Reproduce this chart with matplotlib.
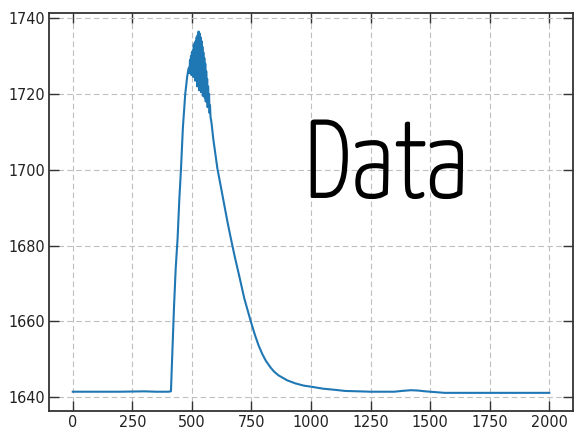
import numpy as np
import matplotlib
matplotlib.use("Agg")
import matplotlib.pyplot as plt
import matplotlib.patheffects as pe

# baseline + rise
x_rise = [0, 100, 200, 300, 350, 400, 412, 418, 425, 432, 440, 447, 454, 462, 472, 480, 485]
y_rise = [1641.4, 1641.4, 1641.4, 1641.5, 1641.4, 1641.4, 1641.5, 1652, 1664, 1674, 1682, 1692, 1700, 1711, 1720, 1724.5, 1726.5]

# noisy top of the peak
x_peak = [488, 490, 492, 494, 496, 498, 500, 502, 504, 506, 508, 510, 512, 514, 516, 518,
          520, 522, 524, 526, 528, 530, 532, 534, 536, 538, 540, 542, 544, 546, 548, 550,
          552, 554, 556, 558, 560, 562, 564, 566, 568, 570, 572, 574, 576, 578]
y_peak = [1727, 1725.5, 1729, 1726, 1730, 1725, 1731, 1726.5, 1731.5, 1724.5, 1733, 1727, 1733.5, 1723.5, 1734, 1725,
          1735, 1722, 1735.5, 1726, 1736.5, 1721, 1736, 1724, 1735, 1720.5, 1734, 1723, 1732.5, 1719.5, 1731, 1722,
          1729.5, 1719, 1728, 1718, 1726, 1720, 1724, 1716.5, 1722, 1717, 1720, 1715, 1717, 1714]

# decay + tail
x_tail = [582, 590, 607, 620, 635, 650, 663, 680, 697, 720, 746, 765, 780, 795, 810, 830, 845, 864,
          900, 934, 970, 1003, 1050, 1100, 1143, 1200, 1250, 1300, 1350, 1380, 1420, 1450, 1480,
          1520, 1560, 1600, 1700, 1800, 1900, 2000]
y_tail = [1712.5, 1708, 1700.3, 1696, 1691, 1686, 1682, 1677, 1672.4, 1666, 1660.2, 1656.3, 1653.6,
          1651.4, 1649.6, 1647.8, 1646.7, 1645.7, 1644.4, 1643.6, 1643.0, 1642.7, 1642.2, 1641.9,
          1641.6, 1641.5, 1641.4, 1641.4, 1641.4, 1641.6, 1641.8, 1641.7, 1641.5, 1641.3, 1641.1,
          1641.1, 1641.1, 1641.1, 1641.1, 1641.1]

x = np.array(x_rise + x_peak + x_tail)
y = np.array(y_rise + y_peak + y_tail)

plt.rcParams['font.family'] = ['DejaVu Sans']
plt.rcParams['font.stretch'] = 'condensed'

fig = plt.figure(figsize=(5.76, 4.33), dpi=100)
ax = fig.add_axes([0.085, 0.051, 0.91, 0.918])

ax.plot(x, y, color='#1f77b4', lw=1.5)

ax.set_xticks([0, 250, 500, 750, 1000, 1250, 1500, 1750, 2000])
ax.set_yticks([1640, 1660, 1680, 1700, 1720, 1740])
ax.grid(True, color='0.75', ls=(0, (5, 3)), lw=0.8)
ax.tick_params(direction='in', length=7, width=1, top=True, right=True, pad=3,
               labelsize=11.5, labelcolor='#222222', color='#333333')
for s in ax.spines.values():
    s.set_color('#333333')
    s.set_linewidth(1.3)

ax.text(1315, 1692.9, "Data", ha='center', va='baseline', fontsize=78,
        family=['Yanone Kaffeesatz', 'DejaVu Sans'], color='black',
        path_effects=[pe.withStroke(linewidth=1.9, foreground='black')])

fig.savefig("out.png", dpi=100)
